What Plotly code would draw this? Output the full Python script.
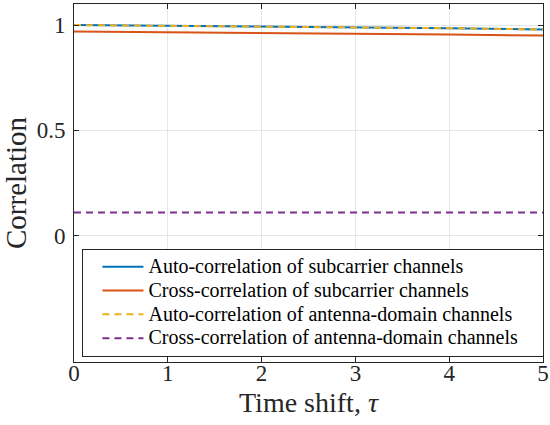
import plotly.graph_objects as go

tau = [0, 1, 2, 3, 4, 5]
auto_sub = [1.0, 0.997, 0.993, 0.990, 0.985, 0.979]
cross_sub = [0.970, 0.967, 0.964, 0.960, 0.955, 0.950]
auto_ant = [1.0, 0.997, 0.993, 0.990, 0.985, 0.979]
cross_ant = [0.11, 0.11, 0.11, 0.11, 0.11, 0.11]
names = ["Auto-correlation of subcarrier channels",
         "Cross-correlation of subcarrier channels",
         "Auto-correlation of antenna-domain channels",
         "Cross-correlation of antenna-domain channels"]
colors = ["#0072BD", "#D95319", "#EDB120", "#7E2F8E"]
dashes = ["solid", "solid", "7px,5px", "7px,5px"]
series = [auto_sub, cross_sub, auto_ant, cross_ant]
x_title = "Time shift, <i>τ</i>"
y_title = "Correlation"

fig = go.Figure()
for s, n, c, d in zip(series, names, colors, dashes):
    fig.add_trace(go.Scatter(x=tau, y=s, mode="lines",
                             name="<span style='font-size:20px'>" + n + "&nbsp;&nbsp;&nbsp;&nbsp;</span>",
                             line=dict(color=c, width=2, dash=d)))

font = "Liberation Serif"
ink = "#262626"
def axis_common():
    return dict(showline=True, linecolor=ink, linewidth=1, mirror="allticks",
                ticks="inside", ticklen=5, tickcolor=ink, automargin=False,
                showgrid=True, gridcolor="#e6e6e6", gridwidth=1, zeroline=False,
                ticklabeloverflow="allow",
                tickfont=dict(family=font, size=23, color=ink))
fig.update_xaxes(range=[0, 5], tickvals=[0, 1, 2, 3, 4, 5], ticklabelstandoff=-10,
                 **axis_common())
fig.update_yaxes(range=[-0.6, 1.1], tickvals=[0, 0.5, 1], ticktext=["0", "0.5", "1"], ticklabelstandoff=3,
                 title=dict(text=y_title, font=dict(family=font, size=29, color=ink), standoff=6),
                 **axis_common())
fig.add_annotation(text=x_title, xref="paper", yref="paper", x=0.5, y=-0.114,
                   xanchor="center", yanchor="middle", showarrow=False,
                   font=dict(family=font, size=28, color=ink))
fig.update_layout(width=550, height=425, plot_bgcolor="white", paper_bgcolor="white",
                  font=dict(family=font, color=ink),
                  margin=dict(l=74, r=7, t=4, b=63),
                  legend=dict(x=0.018, y=0.316, xanchor="left", yanchor="top",
                              bordercolor=ink, borderwidth=1, bgcolor="white",
                              font=dict(family=font, size=16, color="#000000"),
                              tracegroupgap=0, itemwidth=41, indentation=14))
fig.write_html("out.html", config={"displayModeBar": False},
               post_script="document.body.style.margin='0';")
